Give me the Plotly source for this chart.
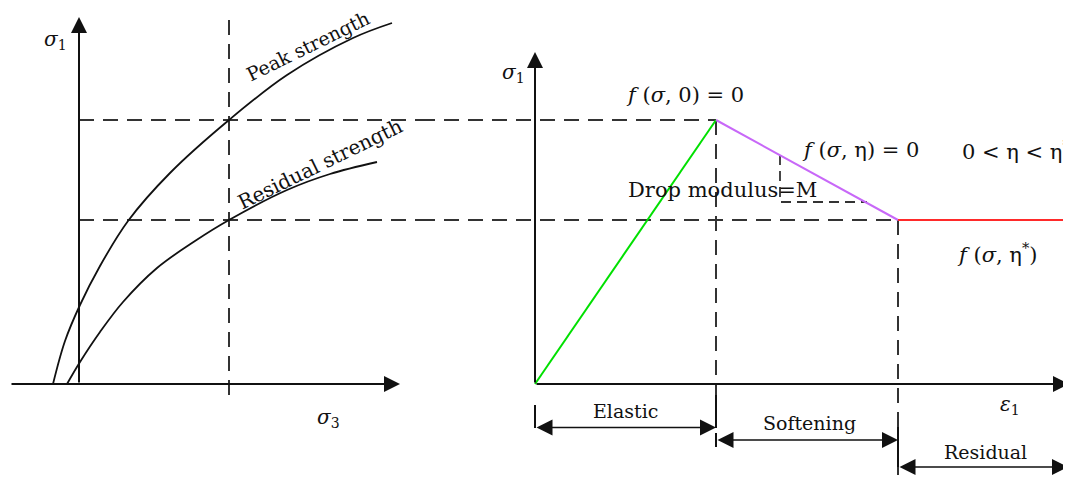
import plotly.graph_objs as go

# ---- left panel: strength envelopes (sigma3, sigma1), drawing units ----
peak_s3 = [-26, -14, 1, 21, 49, 91, 150, 208, 274, 313]
peak_s1 = [0, 43, 79, 118, 163, 211, 264, 309, 346, 361]
resid_s3 = [-12, 1, 21, 44, 78, 116, 150, 208, 251, 298]
resid_s1 = [0, 22, 52, 82, 116, 143, 164, 194, 210, 222]
s3_ref = 150          # confining stress used for the comparison
s1_peak = 264         # peak strength at s3_ref
s1_resid = 164        # residual strength at s3_ref

# ---- right panel: stress-strain path (epsilon1, sigma1) ----
eps_stage = [0, 181, 363, 536]        # start, peak, start of residual, end
sig_stage = [0, s1_peak, s1_resid, s1_resid]
# drop-modulus triangle under the softening branch
drop_eps = [245, 245, 332]
drop_sig = [229, 182, 182]

stage_names = ["Elastic", "Softening", "Residual"]
stage_colors = ["#00e000", "#c868f8", "#ff2a2a"]

FONT = "DejaVu Serif"
DASH = dict(color="#333333", width=2, dash="15px,9px")
INK = "#111111"


def line(xs, ys, panel, style, shape="linear"):
    return go.Scatter(x=xs, y=ys, mode="lines", line=dict(shape=shape, **style),
                      xaxis=panel, yaxis="y", showlegend=False, hoverinfo="skip")


def arrow(panel, x0, y0, x1, y1, both=False, width=2, size=1.6):
    return dict(x=x1, y=y1, ax=x0, ay=y0, xref=panel, yref="y", axref=panel, ayref="y",
                text="", showarrow=True, arrowhead=2, arrowsize=size, arrowwidth=width,
                arrowcolor=INK, arrowside="end+start" if both else "end", standoff=0)


def label(panel, x, y, text, size=18, angle=0, xanchor="center"):
    return dict(x=x, y=y, xref=panel, yref="y", text=text, showarrow=False, textangle=angle,
                xanchor=xanchor, yanchor="middle", font=dict(family=FONT, size=size, color=INK))


fig = go.Figure()

# left panel
fig.add_trace(line([0, 341], [s1_peak, s1_peak], "x", DASH))
fig.add_trace(line([0, 341], [s1_resid, s1_resid], "x", DASH))
fig.add_trace(line([s3_ref, s3_ref], [364, -16], "x", DASH))
fig.add_trace(line(peak_s3, peak_s1, "x", dict(color=INK, width=1.8, smoothing=1.0), "spline"))
fig.add_trace(line(resid_s3, resid_s1, "x", dict(color=INK, width=1.8, smoothing=1.0), "spline"))

# right panel guides
fig.add_trace(line([-115, eps_stage[1]], [s1_peak, s1_peak], "x2", DASH))
fig.add_trace(line([-115, eps_stage[2]], [s1_resid, s1_resid], "x2", DASH))
fig.add_trace(line([eps_stage[1], eps_stage[1]], [s1_peak, -11], "x2", DASH))
fig.add_trace(line([eps_stage[2], eps_stage[2]], [s1_resid, -95], "x2", DASH))
fig.add_trace(line(drop_eps, drop_sig, "x2", dict(color="#333333", width=1.8, dash="10px,6px")))

# stress-strain path, one colour per stage
for i in range(3):
    fig.add_trace(line(eps_stage[i:i + 2], sig_stage[i:i + 2], "x2",
                       dict(color=stage_colors[i], width=2)))

# bracket ticks under the strain axis
ticks = [
    (eps_stage[0], -21, -44), (eps_stage[1], -11, -44),
    (eps_stage[1], -49, -63), (eps_stage[2], -43, -56),
    (eps_stage[2], -56, -83), (533, -71, -83),
]
for tx, ya, yb in ticks:
    fig.add_trace(line([tx, tx], [ya, yb], "x2", dict(color=INK, width=2)))

ann = [
    # axes
    arrow("x", 0, 0, 0, 367),
    arrow("x", -69, 0, 321, 0),
    arrow("x2", 0, 0, 0, 332),
    arrow("x2", 0, 0, 534, 0),
    # stage brackets
    arrow("x2", eps_stage[0], -43.5, eps_stage[1], -43.5, both=True, width=1.6, size=2.0),
    arrow("x2", eps_stage[1], -56, eps_stage[2], -56, both=True, width=1.6, size=2.0),
    arrow("x2", eps_stage[2], -83, 533, -83, both=True, width=1.6, size=2.0),
    # texts
    label("x", -24, 344, "<i>σ</i><sub>1</sub>", 20),
    label("x", 249, -34, "<i>σ</i><sub>3</sub>", 20),
    label("x", 229, 338, "Peak strength", 19, -26),
    label("x", 241, 220, "Residual strength", 20, -26),
    label("x2", -22, 311, "<i>σ</i><sub>1</sub>", 20),
    label("x2", 475, -21, "<i>ε</i><sub>1</sub>", 20),
    label("x2", 150, 289, "<i>f</i> (<i>σ</i>, 0) = 0", 21),
    label("x2", 325, 234, "<i>f</i> (<i>σ</i>, η) = 0", 21),
    label("x2", 425, 234, "0 &lt; η &lt; η<sup>*</sup>", 21, xanchor="left"),
    label("x2", 462, 131, "<i>f</i> (<i>σ</i>, η<sup>*</sup>)", 21),
    label("x2", 187, 194, "Drop modulus=M", 21),
    label("x2", 90, -27, stage_names[0], 19),
    label("x2", 274, -39, stage_names[1], 19),
    label("x2", 450, -68, stage_names[2], 19),
]

# the page body has an 8px margin, so the figure covers reference pixels 8..1071 / 8..479
split = (420 - 8) / 1063
fig.update_layout(
    width=1063, height=471,
    margin=dict(l=0, r=0, t=0, b=0),
    paper_bgcolor="white", plot_bgcolor="white",
    showlegend=False,
    xaxis=dict(domain=[0, split], range=[-71, 341], visible=False, anchor="y"),
    xaxis2=dict(domain=[split, 1], range=[-115, 536], visible=False, anchor="y"),
    yaxis=dict(domain=[0, 1], range=[-95, 376], visible=False),
    annotations=ann,
)

fig.write_html("out.html")
